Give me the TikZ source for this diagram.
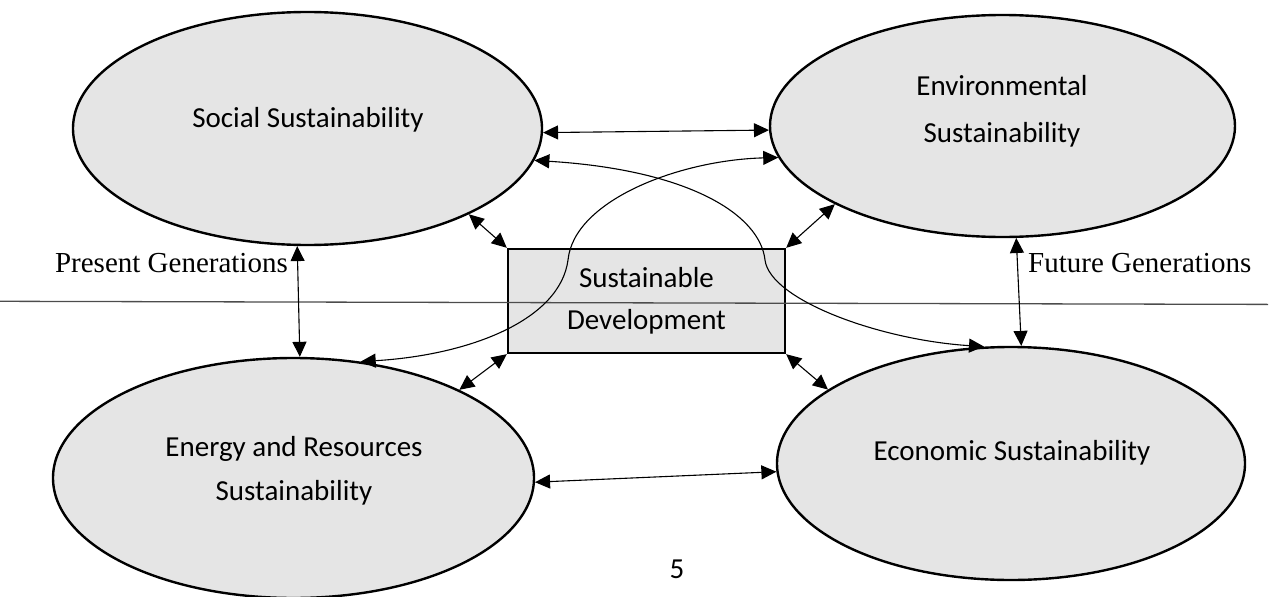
\documentclass[tikz,border=0pt]{standalone}
\usepackage{fontspec}
\setmainfont{Liberation Serif}
\newfontfamily\calfont{Carlito}
\usetikzlibrary{shapes.geometric,arrows.meta}
\definecolor{gfill}{HTML}{E5E5E5}
\begin{document}
\begin{tikzpicture}[x=1pt,y=-1pt,
  bub/.style={ellipse,draw=black,line width=2.4pt,fill=gfill,inner sep=0pt},
  lab/.style={font=\calfont\fontsize{29}{42}\selectfont,align=center,inner sep=0pt},
  gen/.style={font=\fontsize{29}{34}\selectfont,inner sep=0pt},
  link/.style={line width=1.1pt,{Triangle[length=15pt,width=14pt]}-{Triangle[length=15pt,width=14pt]}},
  sdbox/.style={draw=black,line width=2.4pt,fill=gfill,inner sep=0pt,align=center,
    font=\calfont\fontsize{29}{42}\selectfont}
]
\useasboundingbox (0,0) rectangle (1270,597);

% ellipses
\node[bub,minimum width=469pt,minimum height=233pt] (soc) at (307.5,128.5) {};
\node[bub,minimum width=465pt,minimum height=222pt] (env) at (1002.5,126) {};
\node[bub,minimum width=481pt,minimum height=240pt] (en) at (293.5,478) {};
\node[bub,minimum width=468pt,minimum height=233pt] (econ) at (1011,463.5) {};

% central box
\node[sdbox,minimum width=277pt,minimum height=104pt] (sd) at (646.5,301) {Sustainable\\Development};

% ellipse texts
\node[lab,anchor=base] (tsoc) at (308,127) {Social Sustainability};
\node[lab,anchor=base] (tenv1) at (1002,95) {Environmental};
\node[lab,anchor=base] (tenv2) at (1002,142) {Sustainability};
\node[lab,anchor=base] (ten1) at (294,456) {Energy and Resources};
\node[lab,anchor=base] (ten2) at (294,500) {Sustainability};
\node[lab,anchor=base] (tecon) at (1012,460) {Economic Sustainability};

% generation labels
\node[gen,anchor=base east] (pres) at (288,272) {Present Generations};
\node[gen,anchor=base west] (fut) at (1028,272) {Future Generations};

% page number
\node[lab,anchor=base] (pgno) at (677,578) {5};

% divider line
\coordinate (lineL) at (0,301.3);
\coordinate (lineR) at (1268,304.4);
\draw[line width=1.3pt,draw=black!70] (lineL) -- (lineR);

% straight connectors
\draw[link] (soc.-1) -- (env.181);
\draw[link] (en.-1) -- (econ.182);
\draw[link] (soc.-95) -- (en.87);
\draw[link] (env.-83) -- (econ.85);
\draw[link] (soc.-28) -- (sd.north west);
\draw[link] (env.205) -- (sd.north east);
\draw[link] (en.28) -- (sd.south west);
\draw[link] (econ.158) -- (sd.south east);

% curved connectors
\draw[link] (soc.-8) .. controls (690,170) and (760,215) .. (765,260)
  .. controls (770,300) and (880,340) .. (econ.103);
\draw[link] (en.60) .. controls (470,355) and (560,320) .. (568,260)
  .. controls (574,200) and (680,160) .. (env.188);
\end{tikzpicture}
\end{document}
